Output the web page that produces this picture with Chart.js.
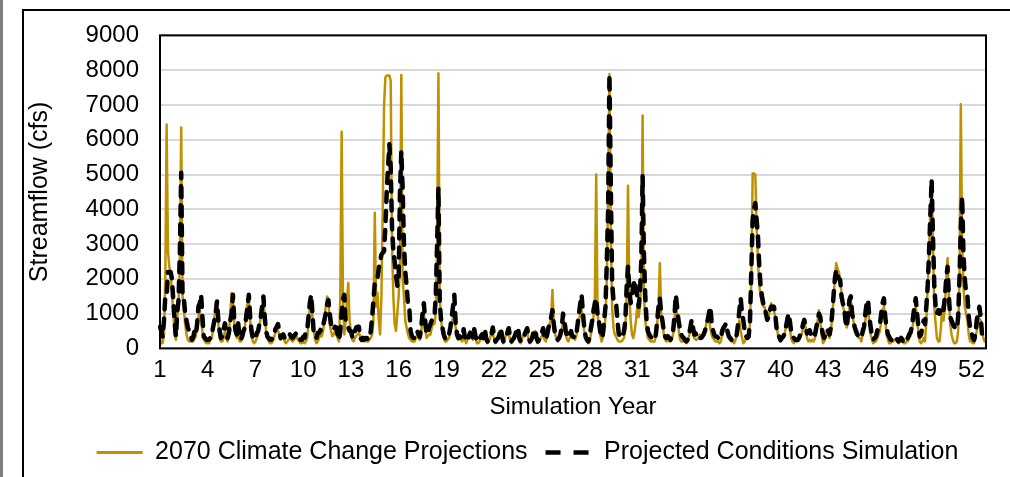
<!DOCTYPE html>
<html>
<head>
<meta charset="utf-8">
<script src="https://cdn.jsdelivr.net/npm/chart.js@4.4.1/dist/chart.umd.min.js"></script>
<style>
  html, body { margin: 0; padding: 0; background: #fff; overflow: hidden; width: 1010px; height: 477px; }
  #edge { position: absolute; left: 0; top: 0; width: 3px; height: 477px; background: #7f7f7f; }
  #frame { position: absolute; left: 22px; top: 9px; width: 1100px; height: 600px; border: 2px solid #000; }
  #c { position: absolute; left: 0; top: 0; }
</style>
</head>
<body>
<div id="edge"></div>
<div id="frame"></div>
<canvas id="c" width="1033" height="475"></canvas>
<script>
// ---- data (monthly streamflow, cfs), one simulation year per line ----
const yearsSimulated = 52;
const monthsPerYear = 12;
const yearTickLabels = [1, 4, 7, 10, 13, 16, 19, 22, 25, 28, 31, 34, 37, 40, 43, 46, 49, 52];
const seriesNames = ['2070 Climate Change Projections', 'Projected Conditions Simulation'];

const climate2070 = [
  300,150,150,400,2000,6440,2800,2350,2200,1600,1000,400,
  250,900,1300,2500,6350,1500,1100,700,400,250,200,200,
  200,200,300,350,600,900,1100,800,500,250,200,150,
  150,150,250,300,500,900,1300,1200,700,300,200,200,
  300,500,300,200,400,1000,1590,1400,700,400,300,500,
  200,200,300,400,600,1100,1300,1400,800,400,200,150,
  200,300,400,600,900,1100,1350,1000,500,300,200,150,
  150,200,300,450,600,500,400,250,300,350,200,150,
  200,250,300,250,200,250,300,350,250,200,150,150,
  200,150,200,300,700,1200,1440,900,500,250,150,200,
  300,400,350,500,800,1200,1490,1400,700,500,350,400,
  500,400,300,200,1500,6230,1500,400,800,1400,1880,800,
  500,240,200,300,350,400,450,350,200,250,200,250,
  200,200,250,300,400,800,3900,1200,1600,800,400,1500,
  4000,7000,7800,7850,7850,7850,7700,3000,1500,700,500,1000,
  1500,2500,7860,2000,1500,800,600,400,300,250,200,200,
  200,300,400,300,250,500,800,1000,600,300,350,400,
  400,600,700,700,1000,3000,7910,1500,800,500,300,200,
  200,250,300,500,700,900,800,600,350,250,300,250,
  200,400,250,150,300,450,500,350,250,500,300,150,
  150,200,300,450,250,450,250,150,200,300,450,500,
  250,150,200,350,500,450,250,150,250,400,500,450,
  250,150,200,350,450,500,400,200,150,250,400,350,
  400,450,250,150,200,300,450,500,250,150,200,300,
  350,450,250,200,350,500,700,900,1680,800,400,300,
  200,250,350,500,800,700,400,250,200,300,400,300,
  300,250,350,600,800,1000,1100,800,500,300,200,150,
  200,400,600,900,1500,5000,1000,700,400,200,300,500,
  900,2000,4500,7880,3500,1200,600,400,350,250,200,200,
  200,250,300,600,1500,4680,1500,800,400,300,500,800,
  1200,900,1200,2000,6700,1500,800,500,300,250,200,200,
  200,200,350,700,1200,2450,1000,700,400,250,200,250,
  200,200,250,400,700,1300,1000,600,300,200,200,200,
  200,150,200,350,500,650,500,300,250,250,300,400,
  350,300,400,500,700,900,850,600,400,300,250,200,
  200,200,150,200,400,500,550,500,400,300,250,200,
  200,150,250,400,600,800,500,300,150,200,300,350,
  300,700,2000,5030,5030,5000,3500,2500,1800,1500,1300,1200,
  1200,1000,800,900,1100,1300,1200,1100,900,700,400,250,
  200,250,300,400,600,900,800,600,300,200,150,200,
  200,250,300,350,400,600,800,600,300,200,250,200,
  250,200,300,500,800,1100,800,400,150,200,400,500,
  400,300,500,900,1400,2000,2450,2300,2200,2000,1600,1200,
  1100,900,600,800,1200,1400,1000,800,500,400,350,300,
  300,200,400,500,800,1100,1200,700,400,250,150,200,
  200,300,400,500,800,1100,1200,800,400,250,150,150,
  200,200,250,250,200,150,200,250,200,150,150,200,
  200,300,350,500,700,1000,1200,800,500,200,150,200,
  300,200,800,1780,2700,4000,4700,3000,1200,700,300,200,
  200,600,1200,800,1200,2000,2600,1500,700,400,250,150,
  150,200,500,2000,7020,3000,1800,1200,1000,800,400,200,
  200,150,150,300,500,700,850,800,600,300,200,200
];

const projectedConditions = [
  620,500,330,800,1500,1500,2200,2200,2200,2000,1400,800,
  340,1000,1400,2800,5050,1500,1440,1000,800,600,500,400,
  250,300,500,400,700,1200,1300,1540,900,340,300,250,
  250,250,300,400,600,800,1000,1350,800,500,300,350,
  550,720,400,300,450,800,1000,1540,800,500,400,720,
  300,250,350,500,600,900,1200,1540,900,500,300,250,
  300,450,500,700,900,1200,1490,900,500,340,300,250,
  250,300,400,550,620,700,500,300,350,400,300,250,
  300,350,400,330,300,350,400,450,350,300,250,250,
  330,300,500,530,900,1300,1540,1000,400,340,300,450,
  450,530,500,650,820,1000,1250,1390,1000,700,530,550,
  620,600,400,240,500,1000,1400,1540,820,700,600,500,
  500,340,300,500,600,620,620,300,250,300,250,300,
  300,250,300,500,900,1400,1880,1900,2000,2300,2500,2700,
  2750,2800,3500,4500,5200,5870,5200,3500,2800,2500,2100,1800,
  2000,4500,5670,4600,3000,2200,1800,1300,1200,500,350,300,
  300,350,500,400,330,600,1000,1300,800,400,450,600,
  700,800,820,900,1500,3000,4620,1300,820,600,400,300,
  250,300,400,600,900,1200,1540,700,400,300,350,300,
  300,550,300,200,250,350,450,400,300,550,350,200,
  200,250,350,400,300,550,300,200,250,350,400,600,
  350,200,250,300,400,580,350,200,250,350,450,580,
  350,200,250,300,400,550,600,300,200,250,300,400,
  500,580,300,200,250,350,500,550,300,200,250,350,
  450,580,300,250,400,600,700,900,1100,700,400,300,
  250,300,400,600,1000,800,500,350,300,400,500,350,
  340,300,400,700,1000,1300,1540,1000,600,340,250,200,
  300,600,800,1100,1300,1440,1000,780,500,300,400,800,
  1200,2500,4000,7880,4700,1900,1400,1300,1300,800,430,350,
  300,340,500,800,1800,2350,1700,1300,1500,1780,1970,1700,
  1500,1200,1600,2500,4950,2700,1500,800,500,400,340,300,
  250,240,400,800,1200,1440,1000,780,500,340,300,350,
  300,250,340,500,900,1540,1200,820,600,400,340,300,
  240,200,250,400,600,820,600,400,430,300,250,300,
  300,340,400,500,650,800,1000,1200,800,530,400,340,
  340,300,250,300,500,600,650,720,500,350,300,250,
  250,220,300,400,700,1100,1440,1000,800,500,350,300,
  340,800,2260,3700,4000,4180,3700,3230,2350,1800,1500,1300,
  1200,1000,820,900,1100,1200,1150,1200,1000,600,400,340,
  240,300,340,400,600,800,1000,800,500,340,300,250,
  250,240,300,400,500,700,820,600,430,500,520,400,
  340,300,400,600,800,1000,900,600,400,300,400,550,
  500,400,600,1000,1500,2000,2260,2100,2000,1970,1500,1300,
  1200,800,600,1000,1400,1500,1000,820,600,500,400,350,
  340,300,500,620,1000,1300,1400,900,620,340,250,300,
  340,500,620,700,1000,1300,1440,900,620,400,340,250,
  240,250,300,340,250,200,250,300,250,150,200,240,
  300,400,450,600,900,1200,1440,1000,620,340,400,620,
  800,700,1200,1780,2700,3800,4860,3200,1800,1200,1000,1100,
  1000,1200,1200,1100,1500,2000,2350,1500,900,800,700,620,
  600,550,900,2000,3500,4370,2700,2000,1600,1500,900,600,
  500,300,240,400,800,1000,1200,900,400,340,300,300
];

// category for every month = its simulation year
const categories = [];
for (let y = 1; y <= yearsSimulated; y++) {
  for (let m = 0; m < monthsPerYear; m++) categories.push(y);
}

Chart.defaults.font.family = "'Liberation Sans', Arial, sans-serif";
Chart.defaults.color = '#000';

const plotFrame = {
  id: 'plotFrame',
  afterDatasetsDraw(chart) {
    const { ctx, chartArea: a } = chart;
    ctx.save();
    ctx.strokeStyle = '#000';
    ctx.lineWidth = 2;
    ctx.strokeRect(a.left, a.top, a.right - a.left, a.bottom - a.top);
    ctx.restore();
  }
};

new Chart(document.getElementById('c'), {
  type: 'line',
  data: {
    labels: categories,
    datasets: [
      {
        label: seriesNames[0],
        data: climate2070,
        borderColor: '#BF9000',
        backgroundColor: '#BF9000',
        borderWidth: 2.5,
        pointRadius: 0,
        tension: 0,
        borderJoinStyle: 'round',
        order: 2
      },
      {
        label: seriesNames[1],
        data: projectedConditions,
        borderColor: '#000',
        backgroundColor: '#000',
        borderWidth: 4.5,
        borderDash: [10, 9],
        borderCapStyle: 'round',
        borderJoinStyle: 'round',
        pointRadius: 0,
        tension: 0,
        order: 1
      }
    ]
  },
  options: {
    responsive: false,
    animation: false,
    layout: { padding: { left: 22, right: 0, top: 34, bottom: 0 } },
    plugins: {
      tooltip: { enabled: false },
      legend: {
        position: 'bottom',
        labels: {
          usePointStyle: true,
          pointStyle: 'line',
          pointStyleWidth: 46,
          padding: 18,
          color: '#000',
          font: { size: 25 },
          sort: (a, b) => a.datasetIndex - b.datasetIndex,
          generateLabels(chart) {
            const items = Chart.defaults.plugins.legend.labels.generateLabels(chart);
            items.forEach((it) => {
              it.pointStyle = 'line';
              if (it.datasetIndex === 1) {
                it.lineDash = [15, 13];
                it.lineWidth = 4.5;
                it.strokeStyle = '#000';
                it.lineCap = 'butt';
              } else {
                it.lineDash = [];
                it.lineWidth = 3;
                it.strokeStyle = '#BF9000';
              }
            });
            return items;
          }
        }
      }
    },
    scales: {
      x: {
        type: 'category',
        offset: false,
        grid: { display: false, drawTicks: false },
        border: { display: false },
        ticks: {
          autoSkip: false,
          maxRotation: 0,
          minRotation: 0,
          padding: 8,
          font: { size: 24 },
          callback(v, i) {
            const yr = categories[i];
            return (i % monthsPerYear === 0 && yearTickLabels.includes(yr)) ? String(yr) : '';
          }
        },
        title: { display: true, text: 'Simulation Year', font: { size: 24 }, padding: { top: 0, bottom: 0 } }
      },
      y: {
        min: 0,
        max: 9000,
        ticks: { stepSize: 1000, padding: 21, font: { size: 24 }, callback: (v) => String(v) },
        grid: { color: '#d9d9d9', lineWidth: 2, drawTicks: false },
        border: { display: false },
        title: { display: true, text: 'Streamflow (cfs)', font: { size: 25 }, padding: { top: 3, bottom: 0 } },
        afterFit(s) { s.width = 138; }
      },
      y2: {
        position: 'right',
        grid: { display: false, drawTicks: false },
        border: { display: false },
        ticks: { display: false },
        afterFit(s) { s.width = 47; }
      }
    }
  },
  plugins: [plotFrame]
});
</script>
</body>
</html>
